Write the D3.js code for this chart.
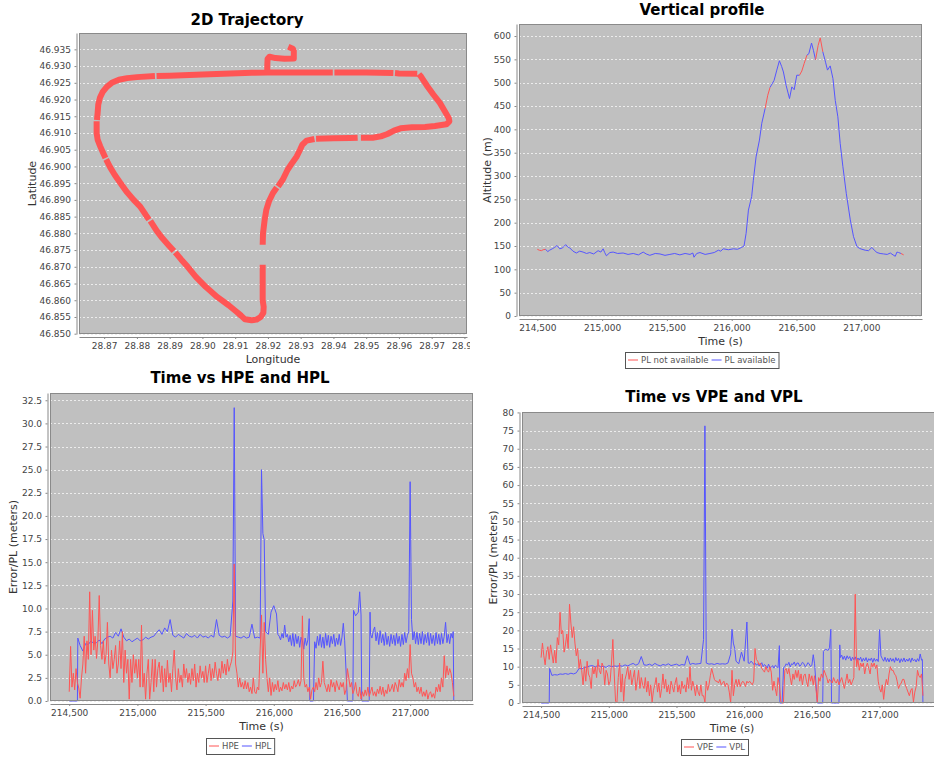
<!DOCTYPE html>
<html>
<head>
<meta charset="utf-8">
<script src="https://d3js.org/d3.v7.min.js"></script>
<style>
body { margin: 0; background: #fff; }
svg { display: block; font-family: 'DejaVu Sans', sans-serif; }
.title { font-size: 15px; font-weight: bold; fill: #000; text-anchor: middle; }
.label { font-size: 11px; fill: #333; text-anchor: middle; }
.tick text { font-size: 9px; fill: #444; font-family: 'DejaVu Sans', sans-serif; }
.tick line, .domain { stroke: #888; }
.legend text { font-size: 8.5px; fill: #555; }
</style>
</head>
<body>
<svg></svg>
<script>
// 2D trajectory (null = gap in the recorded track)
let trackLon = [28.9262, 28.9276, 28.9279, 28.9279, 28.9250, 28.9223, 28.9205, 28.9199, 28.9198, 28.9198,
  28.9150, 28.9000, 28.8900, 28.8860, null, 28.8855, 28.8800, 28.8770, 28.8745, 28.8725,
  28.8708, 28.8695, 28.8687, 28.8682, 28.8680, 28.8678, null, 28.8677, 28.8677, 28.8680,
  28.8688, 28.8697, 28.8704, null, 28.8706, 28.8718, 28.8732, 28.8750, 28.8768, 28.8790,
  28.8810, 28.8827, 28.8837, null, 28.8841, 28.8860, 28.8878, 28.8898, 28.8913, null,
  28.8917, 28.8935, 28.8955, 28.8980, 28.9010, 28.9045, 28.9080, 28.9105, 28.9118, 28.9130,
  28.9150, 28.9165, 28.9178, 28.9186, 28.9187, 28.9184, 28.9184, 28.9184, null, 28.9184,
  28.9185, 28.9190, 28.9195, 28.9203, 28.9215, 28.9227, null, 28.9231, 28.9245, 28.9260,
  28.9275, 28.9288, 28.9298, 28.9305, 28.9318, 28.9342, null, 28.9347, 28.9400, 28.9450,
  28.9474, null, 28.9484, 28.9520, 28.9545, 28.9565, 28.9585, 28.9605, 28.9640, 28.9680,
  28.9710, 28.9745, 28.9754, 28.9752, 28.9740, 28.9725, 28.9705, 28.9685, 28.9668, 28.9661,
  null, 28.9656, 28.9600, 28.9588, null, 28.9583, 28.9500, 28.9420, 28.9403, null,
  28.9398, 28.9350, 28.9300, 28.9250, 28.9198]
let trackLat = [46.9358, 46.9352, 46.9345, 46.9323, 46.9322, 46.9324, 46.9328, 46.9322, 46.9300, 46.9281,
  46.9280, 46.9275, 46.9271, 46.9270, null, 46.9270, 46.9267, 46.9264, 46.9259, 46.9251,
  46.9238, 46.9222, 46.9205, 46.9185, 46.9160, 46.9139, null, 46.9135, 46.9100, 46.9080,
  46.9060, 46.9040, 46.9025, null, 46.9021, 46.8998, 46.8975, 46.8950, 46.8925, 46.8900,
  46.8880, 46.8855, 46.8841, null, 46.8837, 46.8808, 46.8785, 46.8763, 46.8747, null,
  46.8743, 46.8722, 46.8700, 46.8670, 46.8640, 46.8610, 46.8585, 46.8565, 46.8554, 46.8543,
  46.8540, 46.8542, 46.8550, 46.8562, 46.8580, 46.8600, 46.8650, 46.8706, null, 46.8766,
  46.8800, 46.8840, 46.8870, 46.8895, 46.8920, 46.8937, null, 46.8940, 46.8960, 46.8990,
  46.9012, 46.9030, 46.9050, 46.9065, 46.9077, 46.9082, null, 46.9083, 46.9084, 46.9085,
  46.9086, null, 46.9086, 46.9086, 46.9090, 46.9097, 46.9107, 46.9114, 46.9117, 46.9118,
  46.9121, 46.9126, 46.9135, 46.9145, 46.9165, 46.9190, 46.9215, 46.9242, 46.9268, 46.9276,
  null, 46.9277, 46.9278, 46.9279, null, 46.9279, 46.9281, 46.9281, 46.9281, null,
  46.9281, 46.9281, 46.9281, 46.9281, 46.9281]

// vertical profile, altAvail: 1 = PL available, 0 = PL not available
let altTime = [214500, 214515, 214531, 214545, 214564, 214580, 214595, 214615, 214634, 214652,
  214673, 214695, 214719, 214735, 214750, 214775, 214801, 214827, 214853, 214880,
  214905, 214935, 214969, 214990, 215008, 215020, 215033, 215060, 215085, 215120,
  215162, 215200, 215240, 215280, 215317, 215340, 215368, 215410, 215446, 215485,
  215523, 215560, 215600, 215640, 215678, 215700, 215709, 215730, 215755, 215795,
  215832, 215865, 215897, 215915, 215935, 215975, 216013, 216045, 216077, 216095,
  216111, 216129, 216154, 216167, 216188, 216214, 216232, 216258, 216278, 216296,
  216327, 216348, 216368, 216385, 216399, 216420, 216446, 216464, 216482, 216502,
  216523, 216541, 216559, 216580, 216595, 216616, 216631, 216647, 216667, 216683,
  216703, 216724, 216739, 216760, 216781, 216799, 216819, 216837, 216858, 216884,
  216915, 216940, 216966, 216985, 217005, 217030, 217056, 217082, 217100, 217121,
  217145, 217172, 217200, 217224, 217245, 217262, 217275, 217288, 217306, 217327]
let altValue = [143, 141, 140, 142, 143, 138, 141, 144, 147, 151,
  144, 146, 153, 148, 146, 139, 135, 139, 137, 134,
  136, 133, 140, 137, 144, 136, 129, 136, 137, 134,
  135, 132, 134, 131, 137, 133, 130, 134, 133, 130,
  132, 134, 131, 134, 132, 135, 126, 134, 136, 132,
  134, 136, 141, 139, 144, 142, 144, 143, 147, 150,
  177, 227, 256, 291, 341, 377, 413, 445, 473, 490,
  505, 527, 547, 535, 523, 494, 466, 491, 485, 516,
  516, 525, 541, 559, 562, 585, 569, 549, 580, 596,
  566, 544, 527, 536, 509, 462, 427, 370, 320, 263,
  206, 170, 149, 145, 143, 141, 140, 147, 141, 136,
  134, 133, 132, 135, 131, 128, 137, 136, 134, 131]
let altAvail = [0, 0, 0, 0, 1, 1, 1, 1, 1, 1,
  1, 1, 1, 1, 1, 1, 1, 1, 1, 1,
  1, 1, 1, 1, 1, 1, 1, 1, 1, 1,
  1, 1, 1, 1, 1, 1, 1, 1, 1, 1,
  1, 1, 1, 1, 1, 1, 1, 1, 1, 1,
  1, 1, 1, 1, 1, 1, 1, 1, 1, 1,
  1, 1, 1, 1, 1, 1, 1, 0, 0, 1,
  1, 1, 1, 1, 1, 1, 1, 1, 1, 1,
  0, 0, 0, 1, 1, 1, 1, 0, 0, 0,
  1, 1, 1, 1, 1, 1, 1, 1, 1, 1,
  1, 1, 1, 1, 1, 1, 1, 1, 1, 1,
  1, 1, 1, 1, 1, 1, 1, 1, 0, 0]

// position errors (HPE, VPE), 10 s epochs
let peTime = [214500, 214510, 214520, 214530, 214540, 214550, 214560, 214570, 214580, 214590,
  214600, 214610, 214620, 214630, 214640, 214650, 214660, 214670, 214680, 214690,
  214700, 214710, 214720, 214730, 214740, 214750, 214760, 214770, 214780, 214790,
  214800, 214810, 214820, 214830, 214840, 214850, 214860, 214870, 214880, 214890,
  214900, 214910, 214920, 214930, 214940, 214950, 214960, 214970, 214980, 214990,
  215000, 215010, 215020, 215030, 215040, 215050, 215060, 215070, 215080, 215090,
  215100, 215110, 215120, 215130, 215140, 215150, 215160, 215170, 215180, 215190,
  215200, 215210, 215220, 215230, 215240, 215250, 215260, 215270, 215280, 215290,
  215300, 215310, 215320, 215330, 215340, 215350, 215360, 215370, 215380, 215390,
  215400, 215410, 215420, 215430, 215440, 215450, 215460, 215470, 215480, 215490,
  215500, 215510, 215520, 215530, 215540, 215550, 215560, 215570, 215580, 215590,
  215600, 215610, 215620, 215630, 215640, 215650, 215660, 215670, 215680, 215690,
  215700, 215710, 215720, 215730, 215740, 215750, 215760, 215770, 215780, 215790,
  215800, 215810, 215820, 215830, 215840, 215850, 215860, 215870, 215880, 215890,
  215900, 215910, 215920, 215930, 215940, 215950, 215960, 215970, 215980, 215990,
  216000, 216010, 216020, 216030, 216040, 216050, 216060, 216070, 216080, 216090,
  216100, 216110, 216120, 216130, 216140, 216150, 216160, 216170, 216180, 216190,
  216200, 216210, 216220, 216230, 216240, 216250, 216260, 216270, 216280, 216290,
  216300, 216310, 216320, 216330, 216340, 216350, 216360, 216370, 216380, 216390,
  216400, 216410, 216420, 216430, 216440, 216450, 216460, 216470, 216480, 216490,
  216500, 216510, 216520, 216530, 216540, 216550, 216560, 216570, 216580, 216590,
  216600, 216610, 216620, 216630, 216640, 216650, 216660, 216670, 216680, 216690,
  216700, 216710, 216720, 216730, 216740, 216750, 216760, 216770, 216780, 216790,
  216800, 216810, 216820, 216830, 216840, 216850, 216860, 216870, 216880, 216890,
  216900, 216910, 216920, 216930, 216940, 216950, 216960, 216970, 216980, 216990,
  217000, 217010, 217020, 217030, 217040, 217050, 217060, 217070, 217080, 217090,
  217100, 217110, 217120, 217130, 217140, 217150, 217160, 217170, 217180, 217190,
  217200, 217210, 217220, 217230, 217240, 217250, 217260, 217270, 217280, 217290,
  217300, 217310, 217320]
let hpeValue = [1.0, 5.9, 1.5, 3.0, 1.2, 3.5, 2.0, 1.4, 0.3, 2.5,
  4.0, 7.0, 3.0, 6.5, 4.5, 11.8, 5.0, 9.8, 5.5, 7.0,
  4.6, 6.5, 11.4, 6.0, 4.5, 6.5, 4.0, 5.0, 8.5, 4.0,
  2.5, 5.5, 3.5, 4.5, 6.0, 3.0, 4.0, 6.5, 3.5, 7.5,
  2.0, 5.5, 3.0, 4.5, 0.2, 4.5, 2.0, 5.0, 3.0, 4.5,
  2.5, 4.5, 1.5, 8.2, 1.5, 3.0, 0.2, 3.0, 4.5, 0.2,
  2.0, 4.5, 1.0, 4.5, 1.5, 3.5, 4.2, 2.0, 3.8, 1.0,
  3.5, 1.5, 4.4, 2.0, 3.0, 1.0, 3.5, 5.5, 2.5, 1.2,
  3.5, 2.0, 2.8, 1.5, 4.0, 2.5, 3.5, 2.0, 3.0, 1.8,
  3.5, 2.2, 4.0, 1.5, 3.0, 2.0, 3.8, 2.5, 3.2, 2.0,
  3.8, 2.0, 3.0, 4.0, 2.2, 3.5, 2.5, 4.2, 3.0, 2.2,
  3.5, 2.5, 4.3, 3.0, 4.0, 2.8, 4.5, 3.2, 3.8, 4.3,
  5.3, 14.8, 4.0, 3.0, 1.5, 2.5, 1.5, 2.0, 1.3, 2.2,
  1.3, 2.0, 1.0, 1.5, 0.8, 2.5, 1.0, 0.8, 1.5, 1.2,
  5.5, 9.3, 3.0, 8.5, 4.5, 2.5, 1.0, 2.5, 0.6, 2.0,
  1.0, 1.8, 1.2, 2.2, 1.0, 1.5, 1.1, 2.0, 1.3, 1.8,
  1.2, 2.0, 1.0, 1.6, 1.3, 2.2, 1.5, 1.8, 2.3, 1.6,
  2.2, 9.2, 2.5, 1.5, 1.8, 1.0, 1.5, 0.2, 1.2, 1.5,
  1.0, 2.0, 1.2, 2.5, 1.5, 2.0, 4.3, 2.0, 1.5, 1.0,
  1.8, 1.0, 2.3, 1.5, 2.0, 1.0, 2.2, 1.6, 1.2, 2.0,
  1.5, 2.0, 0.7, 1.2, 3.5, 2.5, 1.5, 2.0, 0.8, 1.2,
  2.0, 0.8, 0.5, 1.5, 0.2, 1.0, 0.5, 1.2, 0.6, 1.5,
  0.5, 1.0, 1.5, 0.6, 1.0, 0.5, 1.3, 0.8, 1.6, 0.7,
  1.5, 0.5, 1.2, 0.8, 1.8, 1.0, 1.3, 1.8, 1.0, 2.0,
  1.6, 1.0, 2.3, 1.5, 2.0, 1.5, 3.0, 2.2, 3.5, 2.5,
  6.1, 3.0, 2.5, 1.5, 2.0, 1.0, 1.5, 0.8, 1.5, 0.5,
  1.0, 0.5, 1.2, 0.2, 0.8, 1.0, 0.4, 0.8, 0.3, 1.5,
  1.0, 1.8, 1.0, 2.5, 1.5, 4.9, 2.5, 3.8, 2.8, 3.5,
  3.0, 2.0, 0.5]
let vpeValue = [12.5, 16.5, 13.0, 10.5, 14.0, 15.5, 12.0, 16.0, 13.5, 11.0,
  14.5, 11.0, 18.0, 16.0, 25.0, 19.0, 20.0, 14.0, 16.0, 19.0,
  15.0, 27.2, 22.0, 18.0, 21.0, 16.5, 13.0, 15.0, 9.5, 12.0,
  9.0, 5.0, 10.0, 6.0, 11.5, 8.0, 7.0, 4.0, 10.0, 8.0,
  10.0, 7.0, 12.0, 9.0, 8.0, 11.0, 10.0, 5.0, 9.0, 8.0,
  5.0, 6.0, 11.0, 17.5, 8.0, 0.5, 0.0, 7.0, 11.0, 3.0,
  8.0, 0.5, 6.5, 8.0, 10.0, 6.5, 9.0, 5.0, 7.0, 9.0,
  3.5, 6.0, 9.0, 4.0, 7.0, 5.0, 4.0, 7.0, 3.0, 6.0,
  2.0, 5.0, 0.3, 3.5, 5.0, 7.0, 3.0, 5.5, 1.5, 4.0,
  8.0, 4.0, 6.5, 3.0, 5.0, 2.5, 6.0, 4.5, 3.0, 5.5,
  7.0, 3.0, 5.0, 2.5, 6.0, 4.0, 5.0, 3.0, 7.0, 4.0,
  10.0, 3.5, 6.0, 4.5, 2.0, 5.0, 3.0, 2.0, 5.0, 2.0,
  2.0, 0.3, 6.0, 3.5, 5.0, 7.5, 9.5, 8.0, 6.5, 6.0,
  6.0, 5.5, 6.5, 5.0, 5.5, 6.0, 4.5, 5.5, 5.0, 3.0,
  0.0, 9.0, 2.0, 5.0, 6.5, 4.5, 6.5, 4.5, 5.5, 6.0,
  5.5, 4.5, 6.0, 5.5, 6.0, 5.5, 5.0, 6.0, 15.0, 12.0,
  11.5, 10.5, 11.0, 9.5, 9.0, 8.5, 10.0, 9.0, 8.5, 10.0,
  8.5, 3.5, 6.0, 4.0, 2.0, 7.0, 5.0, 0.5, 0.0, 0.0,
  9.0, 9.5, 8.0, 9.5, 7.0, 5.0, 8.0, 6.5, 9.0, 7.0,
  9.0, 6.0, 8.0, 5.0, 7.5, 8.0, 6.0, 4.5, 8.0, 6.0,
  7.5, 5.0, 7.5, 4.0, 0.3, 7.0, 6.0, 8.0, 7.0, 9.0,
  8.0, 7.0, 5.5, 6.5, 6.0, 5.5, 7.0, 6.0, 5.5, 6.5,
  5.0, 6.0, 7.0, 5.5, 4.0, 6.0, 8.0, 5.5, 6.5, 5.0,
  6.0, 7.0, 30.0, 10.0, 12.0, 9.0, 11.0, 10.0, 11.0, 8.0,
  10.0, 11.0, 9.5, 8.0, 11.0, 10.0, 11.0, 9.5, 10.5, 6.0,
  4.0, 3.0, 5.0, 1.0, 4.5, 6.5, 5.0, 8.0, 10.0, 9.0,
  9.0, 8.0, 7.5, 6.0, 4.0, 5.0, 5.5, 6.5, 6.5, 5.0,
  4.0, 3.0, 2.0, 3.5, 4.0, 0.3, 3.0, 4.5, 9.0, 7.5,
  7.0, 8.0, 2.0]

// protection levels (HPL, VPL): 20 s epochs early on, 10 s later, plus the jumps
let plTime = [214500, 214520, 214540, 214560, 214563, 214580, 214600, 214620, 214640, 214660,
  214680, 214700, 214720, 214740, 214760, 214780, 214800, 214820, 214840, 214860,
  214880, 214900, 214920, 214940, 214960, 214980, 215000, 215020, 215040, 215060,
  215080, 215100, 215120, 215140, 215160, 215180, 215200, 215220, 215240, 215260,
  215280, 215300, 215320, 215340, 215360, 215380, 215400, 215420, 215440, 215460,
  215480, 215500, 215520, 215540, 215560, 215580, 215600, 215620, 215640, 215660,
  215680, 215700, 215710, 215720, 215740, 215760, 215780, 215800, 215820, 215840,
  215860, 215880, 215900, 215910, 215920, 215930, 215940, 215960, 215980, 216000,
  216020, 216030, 216040, 216050, 216060, 216070, 216080, 216090, 216100, 216110,
  216120, 216130, 216140, 216150, 216160, 216170, 216180, 216190, 216200, 216210,
  216220, 216230, 216240, 216250, 216260, 216264, 216280, 216291, 216300, 216310,
  216320, 216330, 216340, 216350, 216360, 216370, 216380, 216390, 216400, 216410,
  216420, 216430, 216440, 216450, 216460, 216470, 216480, 216490, 216500, 216510,
  216520, 216540, 216560, 216580, 216585, 216600, 216620, 216630, 216640, 216645,
  216660, 216680, 216700, 216706, 216710, 216720, 216730, 216740, 216750, 216760,
  216770, 216780, 216790, 216800, 216810, 216820, 216830, 216840, 216850, 216860,
  216870, 216880, 216890, 216900, 216910, 216920, 216930, 216940, 216950, 216960,
  216970, 216980, 216990, 217000, 217010, 217020, 217030, 217040, 217050, 217060,
  217070, 217080, 217090, 217100, 217110, 217120, 217130, 217140, 217150, 217160,
  217170, 217180, 217190, 217200, 217210, 217220, 217230, 217240, 217250, 217260,
  217270, 217280, 217290, 217300, 217310, 217316, 217320]
let hplValue = [0, 0, 0, 0, 6.8, 6.0, 5.4, 6.2, 6.1, 6.5,
  6.2, 6.3, 6.6, 6.2, 6.7, 6.9, 7.0, 6.8, 7.4, 7.0,
  7.8, 6.9, 6.5, 6.7, 6.4, 6.6, 6.8, 6.5, 6.6, 6.9,
  6.7, 6.9, 7.0, 7.4, 7.7, 7.2, 7.9, 7.5, 8.8, 7.1,
  6.9, 7.2, 7.0, 6.8, 7.3, 7.0, 6.9, 7.1, 6.8, 7.2,
  6.9, 7.0, 6.8, 7.1, 6.9, 8.8, 7.1, 6.9, 7.0, 6.8,
  7.0, 10.8, 31.7, 7.0, 6.9, 6.8, 7.0, 6.8, 6.9, 8.3,
  6.8, 6.9, 6.8, 25.0, 18.1, 17.4, 7.5, 7.2, 9.6, 10.3,
  9.4, 7.2, 7.0, 6.6, 7.3, 6.8, 8.2, 6.9, 7.2, 6.4,
  7.1, 6.0, 7.3, 5.9, 7.2, 6.2, 7.0, 5.8, 6.9, 6.5,
  5.6, 6.8, 6.0, 6.6, 8.9, 0, 0, 0, 6.4, 5.7,
  7.0, 6.0, 7.2, 5.8, 6.9, 5.7, 7.3, 6.0, 7.1, 5.8,
  7.0, 6.2, 7.2, 5.9, 6.8, 6.1, 7.2, 6.0, 6.9, 8.4,
  6.5, 0, 0, 0, 9.8, 9.2, 9.6, 11.8, 9.3, 0,
  0, 0, 0, 9.6, 7.2, 6.8, 7.6, 8.0, 6.5, 7.4,
  6.1, 7.6, 6.3, 7.2, 6.0, 7.4, 6.1, 7.0, 5.9, 7.2,
  6.2, 7.1, 6.0, 7.3, 6.2, 7.0, 5.9, 7.2, 6.1, 7.4,
  6.3, 7.1, 7.5, 23.7, 8.8, 6.6, 7.5, 6.2, 7.4, 6.1,
  7.3, 6.2, 7.5, 6.1, 7.2, 6.3, 7.4, 6.0, 7.3, 6.2,
  7.1, 6.0, 7.4, 6.2, 7.2, 6.1, 7.3, 6.2, 7.0, 8.5,
  6.3, 7.2, 6.2, 7.3, 6.8, 7.5, 0]
let vplValue = [0, 0, 0, 0, 9.5, 7.6, 7.8, 7.7, 8.0, 7.9,
  8.1, 7.9, 8.2, 8.0, 8.3, 9.5, 9.4, 9.8, 9.9, 10.2,
  10.3, 9.9, 10.4, 10.0, 10.1, 9.8, 10.3, 10.0, 10.2, 10.1,
  10.3, 10.1, 10.5, 10.2, 10.6, 10.9, 10.4, 10.8, 12.8, 10.5,
  10.4, 10.7, 10.3, 10.9, 10.5, 10.2, 10.6, 10.4, 10.8, 10.3,
  10.5, 10.7, 10.3, 10.6, 10.4, 13.0, 10.6, 10.9, 10.7, 10.8,
  10.9, 17.5, 76.3, 11.0, 10.7, 10.8, 10.6, 10.9, 10.7, 10.8,
  10.7, 11.0, 13.5, 20.3, 16.5, 15.0, 11.5, 10.8, 14.0, 11.5,
  22.3, 11.0, 10.9, 11.5, 11.2, 10.6, 11.0, 10.4, 10.8, 10.2,
  10.5, 11.1, 10.0, 10.6, 10.2, 9.6, 10.7, 9.8, 9.8, 10.3,
  9.6, 10.4, 10.1, 9.7, 15.8, 0, 0, 9.8, 10.0, 10.8,
  10.4, 11.2, 9.9, 10.8, 10.6, 11.3, 10.2, 11.0, 11.0, 10.1,
  10.5, 11.2, 10.9, 10.0, 10.3, 11.1, 10.8, 10.0, 10.4, 13.3,
  10.8, 0, 0, 0, 14.2, 14.8, 14.5, 15.2, 20.3, 0,
  0, 0, 0, 16.0, 12.5, 13.2, 12.0, 12.9, 11.8, 13.0,
  12.2, 12.8, 11.6, 12.6, 11.9, 12.7, 11.5, 12.4, 11.8, 12.6,
  11.4, 12.3, 11.6, 12.5, 11.3, 12.2, 11.7, 12.4, 11.2, 12.3,
  11.5, 12.1, 11.4, 20.2, 13.0, 12.2, 11.5, 12.6, 11.4, 12.3,
  11.3, 12.4, 11.5, 12.2, 11.2, 12.5, 11.6, 12.3, 11.1, 12.2,
  11.4, 12.4, 11.3, 12.1, 11.5, 12.3, 11.2, 12.4, 11.6, 12.0,
  11.3, 12.2, 11.5, 13.5, 11.8, 12.0, 0]

// tick labels
let latTicks = [46.850, 46.855, 46.860, 46.865, 46.870, 46.875, 46.880, 46.885, 46.890,
  46.895, 46.900, 46.905, 46.910, 46.915, 46.920, 46.925, 46.930, 46.935]
let lonTicks = [28.87, 28.88, 28.89, 28.90, 28.91, 28.92, 28.93, 28.94, 28.95, 28.96, 28.97, 28.98]
let timeTicks = [214500, 215000, 215500, 216000, 216500, 217000]
let altTicks = [0, 50, 100, 150, 200, 250, 300, 350, 400, 450, 500, 550, 600]
let hTicks = [0, 2.5, 5, 7.5, 10, 12.5, 15, 17.5, 20, 22.5, 25, 27.5, 30, 32.5]
let vTicks = [0, 5, 10, 15, 20, 25, 30, 35, 40, 45, 50, 55, 60, 65, 70, 75, 80]

let width = 934
let height = 758
let red = '#ff5555'
let blue = '#5555ff'

let svg = d3.select('svg').attr('width', width).attr('height', height)
let defs = svg.append('defs')

// auto range like the original: 5% margins, zero included for error/altitude axes
let padded = (values, fromZero) => {
    let ext = d3.extent(values.filter(v => v != null))
    if (fromZero) return [0, ext[1] * 1.05]
    let r = ext[1] - ext[0]
    return [ext[0] - r * 0.05, ext[1] + r * 0.05]
}

let drawPanel = (p) => {
    let g = svg.append('g')
    if (p.clipRight) {
        defs.append('clipPath').attr('id', 'panel' + p.name)
            .append('rect').attr('x', 0).attr('y', 0).attr('width', p.clipRight).attr('height', height)
        g.attr('clip-path', 'url(#panel' + p.name + ')')
    }
    defs.append('clipPath').attr('id', 'plot' + p.name)
        .append('rect')
        .attr('x', p.left).attr('y', p.top - 1)
        .attr('width', p.right - p.left).attr('height', p.bottom - p.top + 2)

    g.append('text').attr('class', 'title')
     .attr('x', p.titleX).attr('y', p.titleY).text(p.title)

    g.append('rect')
     .attr('x', p.left).attr('y', p.top)
     .attr('width', p.right - p.left).attr('height', p.bottom - p.top)
     .attr('fill', '#c0c0c0')

    g.selectAll('line.grid')
     .data(p.yTicks)
     .enter()
     .append('line')
     .attr('class', 'grid')
     .attr('x1', p.left).attr('x2', p.right)
     .attr('y1', d => Math.round(p.y(d)) + 0.5)
     .attr('y2', d => Math.round(p.y(d)) + 0.5)
     .attr('stroke', '#ececec')
     .attr('stroke-dasharray', '2,2')

    p.plot = g.append('g').attr('clip-path', 'url(#plot' + p.name + ')')

    g.append('rect')
     .attr('x', p.left + 0.5).attr('y', p.top + 0.5)
     .attr('width', p.right - p.left - 1).attr('height', p.bottom - p.top - 1)
     .attr('fill', 'none')
     .attr('stroke', '#8a8a8a')

    let yAxis = d3.axisLeft(p.y)
                  .tickValues(p.yTicks)
                  .tickFormat(p.yFormat)
                  .tickSize(2)
                  .tickSizeOuter(0)
                  .tickPadding(3.5)
    g.append('g')
     .attr('transform', 'translate(' + (p.left - 2.5) + ',0)')
     .call(yAxis)

    let xAxis = d3.axisBottom(p.x)
                  .tickValues(p.xTicks)
                  .tickFormat(p.xFormat)
                  .tickSize(2)
                  .tickSizeOuter(0)
                  .tickPadding(4)
    g.append('g')
     .attr('transform', 'translate(0,' + (p.bottom + 3) + ')')
     .call(xAxis)

    g.append('text').attr('class', 'label')
     .attr('x', (p.left + p.right) / 2).attr('y', p.xLabelY).text(p.xLabel)
    g.append('text').attr('class', 'label')
     .attr('transform', 'translate(' + p.yLabelX + ',' + (p.top + p.bottom) / 2 + ') rotate(-90)')
     .text(p.yLabel)

    if (p.legend) drawLegend(g, p.legendX, p.legendY, p.legend)
}

let drawLegend = (g, cx, top, items) => {
    let lg = g.append('g').attr('class', 'legend')
    let box = lg.append('rect')
    let x = 3
    items.forEach(it => {
        lg.append('line')
          .attr('x1', x).attr('x2', x + 10)
          .attr('y1', 8).attr('y2', 8)
          .attr('stroke', it.color)
        let t = lg.append('text').attr('x', x + 13).attr('y', 11).text(it.name)
        x += 13 + t.node().getComputedTextLength() + 3
    })
    box.attr('x', 0.5).attr('y', 0.5)
       .attr('width', x).attr('height', 16)
       .attr('fill', '#fff')
       .attr('stroke', '#555')
    lg.attr('transform', 'translate(' + Math.round(cx - x / 2) + ',' + top + ')')
}

let lineOf = (p, xs, ys) => d3.line()
    .defined(i => xs[i] != null && ys[i] != null)
    .x(i => p.x(xs[i]))
    .y(i => p.y(ys[i]))

let fmtTime = d3.format(',')

// ---- 2D trajectory
let track = {
    name: 'track', title: '2D Trajectory', titleX: 247, titleY: 24.5,
    left: 79, right: 467, top: 33, bottom: 334, clipRight: 470,
    xLabel: 'Longitude', xLabelY: 363, yLabel: 'Latitude', yLabelX: 36,
    xTicks: lonTicks, yTicks: latTicks,
    xFormat: d3.format('.2f'), yFormat: d3.format('.3f')
}
track.x = d3.scaleLinear().domain(padded(trackLon)).range([track.left, track.right])
track.y = d3.scaleLinear().domain(padded(trackLat)).range([track.bottom, track.top])
drawPanel(track)
track.plot.append('path')
     .datum(d3.range(trackLon.length))
     .attr('d', lineOf(track, trackLon, trackLat))
     .attr('fill', 'none')
     .attr('stroke', red)
     .attr('stroke-width', 6)
     .attr('stroke-linejoin', 'round')

// ---- vertical profile
let profile = {
    name: 'profile', title: 'Vertical profile', titleX: 702, titleY: 15,
    left: 519, right: 922, top: 24, bottom: 316,
    xLabel: 'Time (s)', xLabelY: 345, yLabel: 'Altitude (m)', yLabelX: 491,
    xTicks: timeTicks, yTicks: altTicks,
    xFormat: fmtTime, yFormat: d3.format('d'),
    legend: [{name: 'PL not available', color: red}, {name: 'PL available', color: blue}],
    legendX: 702, legendY: 352
}
profile.x = d3.scaleLinear().domain(padded(altTime)).range([profile.left, profile.right])
profile.y = d3.scaleLinear().domain(padded(altValue, true)).range([profile.bottom, profile.top])
drawPanel(profile)

let runs = []
for (let i = 0; i < altTime.length - 1; i++) {
    if (!runs.length || runs[runs.length - 1].avail != altAvail[i]) {
        runs.push({avail: altAvail[i], idx: [i]})
    }
    runs[runs.length - 1].idx.push(i + 1)
}
profile.plot.selectAll('path.alt')
       .data(runs)
       .enter()
       .append('path')
       .attr('class', 'alt')
       .attr('d', r => lineOf(profile, altTime, altValue)(r.idx))
       .attr('fill', 'none')
       .attr('stroke', r => r.avail ? blue : red)

// ---- HPE / HPL
let horiz = {
    name: 'horiz', title: 'Time vs HPE and HPL', titleX: 240, titleY: 383,
    left: 50, right: 473, top: 393, bottom: 701,
    xLabel: 'Time (s)', xLabelY: 730, yLabel: 'Error/PL (meters)', yLabelX: 16.5,
    xTicks: timeTicks, yTicks: hTicks,
    xFormat: fmtTime, yFormat: d3.format('.1f'),
    legend: [{name: 'HPE', color: red}, {name: 'HPL', color: blue}],
    legendX: 240, legendY: 738
}
horiz.x = d3.scaleLinear().domain(padded(peTime)).range([horiz.left, horiz.right])
horiz.y = d3.scaleLinear().domain(padded(hplValue.concat(hpeValue), true)).range([horiz.bottom, horiz.top])
drawPanel(horiz)

// ---- VPE / VPL
let vert = {
    name: 'vert', title: 'Time vs VPE and VPL', titleX: 714, titleY: 402,
    left: 522, right: 942, top: 412, bottom: 703,
    xLabel: 'Time (s)', xLabelY: 731.5, yLabel: 'Error/PL (meters)', yLabelX: 497,
    xTicks: timeTicks, yTicks: vTicks,
    xFormat: fmtTime, yFormat: d3.format('d'),
    legend: [{name: 'VPE', color: red}, {name: 'VPL', color: blue}],
    legendX: 714, legendY: 739
}
vert.x = d3.scaleLinear().domain(padded(peTime)).range([vert.left, vert.right])
vert.y = d3.scaleLinear().domain(padded(vplValue.concat(vpeValue), true)).range([vert.bottom, vert.top])
drawPanel(vert)

let drawSeries = (p, times, values, color) => {
    p.plot.append('path')
     .datum(d3.range(times.length))
     .attr('d', lineOf(p, times, values))
     .attr('fill', 'none')
     .attr('stroke', color)
     .attr('stroke-width', 1)
}
drawSeries(horiz, plTime, hplValue, blue)
drawSeries(horiz, peTime, hpeValue, red)
drawSeries(vert, plTime, vplValue, blue)
drawSeries(vert, peTime, vpeValue, red)
</script>
</body>
</html>
